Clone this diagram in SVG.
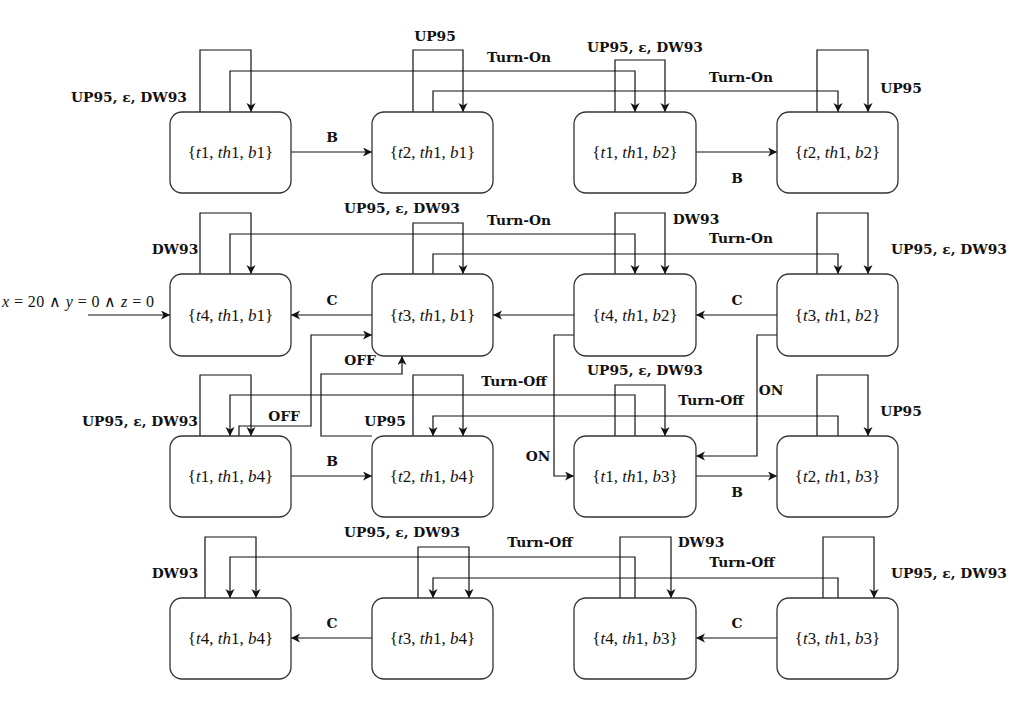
<svg xmlns="http://www.w3.org/2000/svg" width="1019" height="701" viewBox="0 0 1019 701">
<style>
.n rect{fill:#fff;stroke:#333;stroke-width:1.3}
.n text{font-family:"Liberation Serif",serif;font-size:17px;text-anchor:middle;fill:#111}
.i{font-style:italic}
.c path{fill:none;stroke:#111;stroke-width:1.2}
.c path.a{marker-end:url(#ah)}
.l{font-family:"DejaVu Serif",serif;font-weight:bold;font-size:13.8px;text-anchor:middle;fill:#111}
.m{font-family:"Liberation Serif",serif;font-size:16px;text-anchor:start;fill:#111}
</style>
<defs>
<marker id="ah" markerWidth="12" markerHeight="12" refX="9" refY="4.5" orient="auto" markerUnits="userSpaceOnUse">
<path d="M0,0 L9,4.5 L0,9 L2.5,4.5 z" fill="#111"/>
</marker>
</defs>
<rect width="1019" height="701" fill="#fff"/>
<g class="c" id="connectors">
<path class="a" d="M200,112 V50 H251 V112"/>
<path class="a" d="M230,112 V71 H635 V112"/>
<path class="a" d="M413,112 V50 H463 V112"/>
<path class="a" d="M433,112 V91 H838 V112"/>
<path class="a" d="M615,112 V60 H665 V112"/>
<path class="a" d="M817,112 V50 H868 V112"/>
<path class="a" d="M291,152 H372"/>
<path class="a" d="M696,152 H777"/>
<path class="a" d="M200,274 V213 H251 V274"/>
<path class="a" d="M230,274 V234 H635 V274"/>
<path class="a" d="M413,274 V223 H463 V274"/>
<path class="a" d="M433,274 V254 H838 V274"/>
<path class="a" d="M615,274 V213 H665 V274"/>
<path class="a" d="M817,274 V213 H868 V274"/>
<path class="a" d="M372,315 H291"/>
<path class="a" d="M574,315 H493"/>
<path class="a" d="M777,315 H696"/>
<path class="a" d="M88,315 H170"/>
<path class="a" d="M574,335 H554 V476 H574"/>
<path class="a" d="M777,335 H757 V456 H696"/>
<path class="a" d="M239,436 V426 H311 V335 H372"/>
<path class="a" d="M372,436 H321 V374 H402 V356"/>
<path class="a" d="M200,436 V375 H251 V436"/>
<path class="a" d="M635,436 V395 H230 V436"/>
<path class="a" d="M413,436 V375 H463 V436"/>
<path class="a" d="M838,436 V416 H433 V436"/>
<path class="a" d="M615,436 V385 H665 V436"/>
<path class="a" d="M817,436 V375 H868 V436"/>
<path class="a" d="M291,476 H372"/>
<path class="a" d="M696,476 H777"/>
<path class="a" d="M205,598 V537 H256 V598"/>
<path class="a" d="M635,598 V557 H230 V598"/>
<path class="a" d="M418,598 V547 H469 V598"/>
<path class="a" d="M838,598 V578 H433 V598"/>
<path class="a" d="M620,598 V537 H671 V598"/>
<path class="a" d="M823,598 V537 H874 V598"/>
<path class="a" d="M372,638 H291"/>
<path class="a" d="M777,638 H696"/>
</g>
<g id="labels">
<text class="l" x="129" y="102">UP95, ε, DW93</text>
<text class="l" x="435" y="41">UP95</text>
<text class="l" x="519" y="62">Turn-On</text>
<text class="l" x="645" y="52">UP95, ε, DW93</text>
<text class="l" x="741" y="82">Turn-On</text>
<text class="l" x="901" y="93">UP95</text>
<text class="l" x="332" y="142">B</text>
<text class="l" x="737" y="183">B</text>
<text class="l" x="175" y="254">DW93</text>
<text class="l" x="402" y="213">UP95, ε, DW93</text>
<text class="l" x="519" y="225">Turn-On</text>
<text class="l" x="696" y="224">DW93</text>
<text class="l" x="741" y="243">Turn-On</text>
<text class="l" x="949" y="254">UP95, ε, DW93</text>
<text class="l" x="332" y="305">C</text>
<text class="l" x="737" y="305">C</text>
<text class="m" x="2" y="307" textLength="152" lengthAdjust="spacing"><tspan class="i">x</tspan> = 20 ∧ <tspan class="i">y</tspan> = 0 ∧ <tspan class="i">z</tspan> = 0</text>
<text class="l" x="360" y="365">OFF</text>
<text class="l" x="284" y="421">OFF</text>
<text class="l" x="771" y="395">ON</text>
<text class="l" x="538" y="461">ON</text>
<text class="l" x="140" y="426">UP95, ε, DW93</text>
<text class="l" x="385" y="426">UP95</text>
<text class="l" x="514" y="386">Turn-Off</text>
<text class="l" x="645" y="375">UP95, ε, DW93</text>
<text class="l" x="711" y="405">Turn-Off</text>
<text class="l" x="901" y="416">UP95</text>
<text class="l" x="332" y="466">B</text>
<text class="l" x="737" y="497">B</text>
<text class="l" x="175" y="578">DW93</text>
<text class="l" x="402" y="537">UP95, ε, DW93</text>
<text class="l" x="540" y="547">Turn-Off</text>
<text class="l" x="701" y="547">DW93</text>
<text class="l" x="742" y="567">Turn-Off</text>
<text class="l" x="949" y="578">UP95, ε, DW93</text>
<text class="l" x="332" y="628">C</text>
<text class="l" x="737" y="628">C</text>
</g>
<g class="n" id="t1_th1_b1"><rect x="170" y="112" width="121" height="81" rx="12"/><text x="230.5" y="158">{<tspan class="i">t</tspan>1, <tspan class="i">th</tspan>1, <tspan class="i">b</tspan>1}</text></g>
<g class="n" id="t2_th1_b1"><rect x="372" y="112" width="121" height="81" rx="12"/><text x="432.5" y="158">{<tspan class="i">t</tspan>2, <tspan class="i">th</tspan>1, <tspan class="i">b</tspan>1}</text></g>
<g class="n" id="t1_th1_b2"><rect x="574" y="112" width="122" height="81" rx="12"/><text x="635" y="158">{<tspan class="i">t</tspan>1, <tspan class="i">th</tspan>1, <tspan class="i">b</tspan>2}</text></g>
<g class="n" id="t2_th1_b2"><rect x="777" y="112" width="121" height="81" rx="12"/><text x="837.5" y="158">{<tspan class="i">t</tspan>2, <tspan class="i">th</tspan>1, <tspan class="i">b</tspan>2}</text></g>
<g class="n" id="t4_th1_b1"><rect x="170" y="274" width="121" height="82" rx="12"/><text x="230.5" y="320.5">{<tspan class="i">t</tspan>4, <tspan class="i">th</tspan>1, <tspan class="i">b</tspan>1}</text></g>
<g class="n" id="t3_th1_b1"><rect x="372" y="274" width="121" height="82" rx="12"/><text x="432.5" y="320.5">{<tspan class="i">t</tspan>3, <tspan class="i">th</tspan>1, <tspan class="i">b</tspan>1}</text></g>
<g class="n" id="t4_th1_b2"><rect x="574" y="274" width="122" height="82" rx="12"/><text x="635" y="320.5">{<tspan class="i">t</tspan>4, <tspan class="i">th</tspan>1, <tspan class="i">b</tspan>2}</text></g>
<g class="n" id="t3_th1_b2"><rect x="777" y="274" width="121" height="82" rx="12"/><text x="837.5" y="320.5">{<tspan class="i">t</tspan>3, <tspan class="i">th</tspan>1, <tspan class="i">b</tspan>2}</text></g>
<g class="n" id="t1_th1_b4"><rect x="170" y="436" width="121" height="81" rx="12"/><text x="230.5" y="482">{<tspan class="i">t</tspan>1, <tspan class="i">th</tspan>1, <tspan class="i">b</tspan>4}</text></g>
<g class="n" id="t2_th1_b4"><rect x="372" y="436" width="121" height="81" rx="12"/><text x="432.5" y="482">{<tspan class="i">t</tspan>2, <tspan class="i">th</tspan>1, <tspan class="i">b</tspan>4}</text></g>
<g class="n" id="t1_th1_b3"><rect x="574" y="436" width="122" height="81" rx="12"/><text x="635" y="482">{<tspan class="i">t</tspan>1, <tspan class="i">th</tspan>1, <tspan class="i">b</tspan>3}</text></g>
<g class="n" id="t2_th1_b3"><rect x="777" y="436" width="121" height="81" rx="12"/><text x="837.5" y="482">{<tspan class="i">t</tspan>2, <tspan class="i">th</tspan>1, <tspan class="i">b</tspan>3}</text></g>
<g class="n" id="t4_th1_b4"><rect x="170" y="598" width="121" height="81" rx="12"/><text x="230.5" y="644">{<tspan class="i">t</tspan>4, <tspan class="i">th</tspan>1, <tspan class="i">b</tspan>4}</text></g>
<g class="n" id="t3_th1_b4"><rect x="372" y="598" width="121" height="81" rx="12"/><text x="432.5" y="644">{<tspan class="i">t</tspan>3, <tspan class="i">th</tspan>1, <tspan class="i">b</tspan>4}</text></g>
<g class="n" id="t4_th1_b3"><rect x="574" y="598" width="122" height="81" rx="12"/><text x="635" y="644">{<tspan class="i">t</tspan>4, <tspan class="i">th</tspan>1, <tspan class="i">b</tspan>3}</text></g>
<g class="n" id="t3_th1_b3"><rect x="777" y="598" width="121" height="81" rx="12"/><text x="837.5" y="644">{<tspan class="i">t</tspan>3, <tspan class="i">th</tspan>1, <tspan class="i">b</tspan>3}</text></g>
</svg>
